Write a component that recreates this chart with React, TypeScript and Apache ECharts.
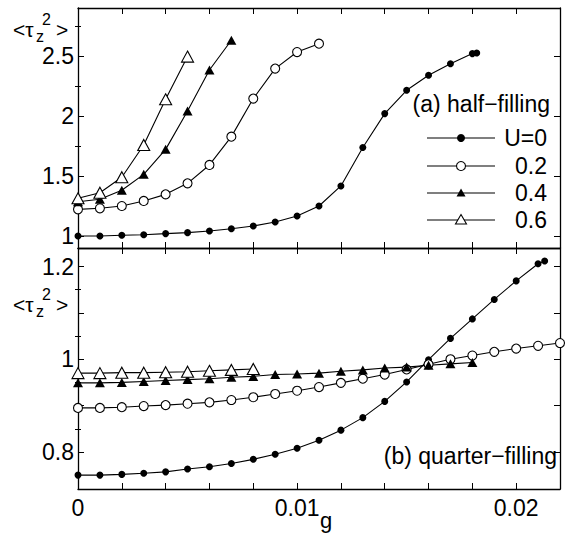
import React, { useEffect, useRef } from "react";
import * as echarts from "echarts";

const FONT = '"Liberation Sans", Arial, Helvetica, sans-serif';

// (a) half-filling
const gHalfU0 = [0, 0.001, 0.002, 0.003, 0.004, 0.005, 0.006, 0.007, 0.008, 0.009, 0.01, 0.011, 0.012, 0.013, 0.014, 0.015, 0.016, 0.017, 0.018, 0.0182];
const halfU0 = [1.0, 1.0, 1.006, 1.011, 1.02, 1.028, 1.042, 1.061, 1.083, 1.117, 1.167, 1.25, 1.417, 1.737, 2.02, 2.214, 2.339, 2.436, 2.52, 2.525];
const gHalfU02 = [0, 0.001, 0.002, 0.003, 0.004, 0.005, 0.006, 0.007, 0.008, 0.009, 0.01, 0.011];
const halfU02 = [1.222, 1.231, 1.25, 1.292, 1.347, 1.439, 1.592, 1.828, 2.145, 2.395, 2.533, 2.603];
const gHalfU04 = [0, 0.001, 0.002, 0.003, 0.004, 0.005, 0.006, 0.007];
const halfU04 = [1.286, 1.306, 1.381, 1.514, 1.722, 2.042, 2.383, 2.631];
const gHalfU06 = [0, 0.001, 0.002, 0.003, 0.004, 0.005];
const halfU06 = [1.314, 1.361, 1.49, 1.758, 2.139, 2.495];

// (b) quarter-filling
const gQuarterU0 = [0, 0.001, 0.002, 0.003, 0.004, 0.005, 0.006, 0.007, 0.008, 0.009, 0.01, 0.011, 0.012, 0.013, 0.014, 0.015, 0.016, 0.017, 0.018, 0.019, 0.02, 0.021, 0.0213];
const quarterU0 = [0.75, 0.75, 0.7515, 0.754, 0.757, 0.763, 0.768, 0.775, 0.784, 0.795, 0.808, 0.825, 0.847, 0.874, 0.909, 0.951, 0.999, 1.045, 1.087, 1.129, 1.169, 1.206, 1.212];
const gQuarterU02 = [0, 0.001, 0.002, 0.003, 0.004, 0.005, 0.006, 0.007, 0.008, 0.009, 0.01, 0.011, 0.012, 0.013, 0.014, 0.015, 0.016, 0.017, 0.018, 0.019, 0.02, 0.021, 0.022];
const quarterU02 = [0.895, 0.895, 0.8965, 0.899, 0.901, 0.904, 0.907, 0.912, 0.918, 0.925, 0.932, 0.94, 0.949, 0.958, 0.967, 0.978, 0.989, 1.0, 1.008, 1.016, 1.023, 1.029, 1.035];
const gQuarterU04 = [0, 0.001, 0.002, 0.003, 0.004, 0.005, 0.006, 0.007, 0.008, 0.009, 0.01, 0.011, 0.012, 0.013, 0.014, 0.015, 0.016, 0.017, 0.018];
const quarterU04 = [0.949, 0.949, 0.95, 0.952, 0.954, 0.956, 0.958, 0.961, 0.963, 0.967, 0.968, 0.97, 0.974, 0.977, 0.981, 0.983, 0.987, 0.99, 0.993];
const gQuarterU06 = [0, 0.001, 0.002, 0.003, 0.004, 0.005, 0.006, 0.007, 0.008];
const quarterU06 = [0.97, 0.97, 0.971, 0.971, 0.972, 0.973, 0.975, 0.977, 0.979];

// axis ticks
const xTickLabels = [0, 0.01, 0.02];
const halfMajor = [1, 1.5, 2, 2.5];
const halfMinor = [1.25, 1.75, 2.25, 2.75];
const halfLabels = [1, 1.5, 2, 2.5];
const quarterMajor = [0.8, 0.9, 1.0, 1.1, 1.2];
const quarterMinor = [0.75, 0.85, 0.95, 1.05, 1.15];
const quarterLabels = [0.8, 1, 1.2];

const legendNames = ["U=0", "0.2", "0.4", "0.6"];

const pair = (xs: number[], ys: number[]) => xs.map((x, i) => [x, ys[i]]);

const AXIS_LINE = { show: true, onZero: false, lineStyle: { color: "#000", width: 1.3 } };

function xAxis(grid: number, pos: string, showLabel: boolean) {
  return {
    type: "value",
    gridIndex: grid,
    position: pos,
    min: 0,
    max: 0.022,
    interval: 0.002,
    axisLine: AXIS_LINE,
    axisTick: { show: true, inside: true, length: 6, lineStyle: { color: "#000", width: 1 } },
    axisLabel: {
      show: showLabel,
      margin: 7,
      fontSize: 23,
      color: "#000",
      fontFamily: FONT,
      formatter: (v: number) => {
        const hit = xTickLabels.find((t) => Math.abs(t - v) < 1e-7);
        if (hit === undefined) return "";
        return hit === 0 ? "0" : hit.toFixed(2);
      },
    },
    splitLine: { show: false },
  };
}

function yAxis(grid: number, pos: string, min: number, max: number, ticks: number[], len: number, labels: number[] | null, line: boolean) {
  return {
    type: "value",
    gridIndex: grid,
    position: pos,
    min,
    max,
    axisLine: line ? AXIS_LINE : { show: false },
    axisTick: { show: true, inside: true, length: len, customValues: ticks, lineStyle: { color: "#000", width: 1 } },
    axisLabel: labels
      ? { show: true, customValues: labels, margin: 4, fontSize: 23, color: "#000", fontFamily: FONT, formatter: (v: number) => String(Math.round(v * 100) / 100) }
      : { show: false },
    splitLine: { show: false },
  };
}

const filledCircle = { symbol: "circle", symbolSize: 7, itemStyle: { color: "#000", borderColor: "#000", borderWidth: 0 } };
const openCircle = { symbol: "circle", symbolSize: 9, itemStyle: { color: "#fff", borderColor: "#000", borderWidth: 1.1 } };
const filledTri = { symbol: "triangle", symbolSize: [10, 9], itemStyle: { color: "#000", borderColor: "#000", borderWidth: 0 } };
const openTri = { symbol: "triangle", symbolSize: [12, 11], itemStyle: { color: "#fff", borderColor: "#000", borderWidth: 1.1 } };

function line(name: string, xi: number, yi: number, data: number[][], sym: any) {
  return {
    type: "line",
    name,
    xAxisIndex: xi,
    yAxisIndex: yi,
    data,
    showSymbol: true,
    lineStyle: { color: "#000", width: 1.1 },
    ...sym,
  };
}

function yNameGraphics(cy: number) {
  return [
    { type: "text", x: 13, y: cy, style: { text: "<τ", font: `21px ${FONT}`, fill: "#000", verticalAlign: "middle" } },
    { type: "text", x: 36, y: cy + 7, style: { text: "z", font: `16px ${FONT}`, fill: "#000", verticalAlign: "middle" } },
    { type: "text", x: 42, y: cy - 10, style: { text: "2", font: `16px ${FONT}`, fill: "#000", verticalAlign: "middle" } },
    { type: "text", x: 56, y: cy, style: { text: ">", font: `21px ${FONT}`, fill: "#000", verticalAlign: "middle" } },
  ];
}

function legendGraphics() {
  const ys = [138, 166, 193, 220];
  const out: any[] = [];
  ys.forEach((y, i) => {
    out.push({ type: "line", shape: { x1: 427, y1: y, x2: 495, y2: y }, style: { stroke: "#000", lineWidth: 1.1 } });
    const cx = 461;
    if (i === 0) out.push({ type: "circle", shape: { cx, cy: y, r: 4 }, style: { fill: "#000" } });
    if (i === 1) out.push({ type: "circle", shape: { cx, cy: y, r: 4.5 }, style: { fill: "#fff", stroke: "#000", lineWidth: 1.1 } });
    if (i === 2) out.push({ type: "polygon", shape: { points: [[cx, y - 4.5], [cx + 4.5, y + 3.5], [cx - 4.5, y + 3.5]] }, style: { fill: "#000" } });
    if (i === 3) out.push({ type: "polygon", shape: { points: [[cx, y - 5.5], [cx + 5.5, y + 4], [cx - 5.5, y + 4]] }, style: { fill: "#fff", stroke: "#000", lineWidth: 1.1 } });
    out.push({
      type: "text",
      x: 547,
      y: y,
      style: { text: legendNames[i], font: `23px ${FONT}`, fill: "#000", align: "right", verticalAlign: "middle" },
    });
  });
  return out;
}

export default function App() {
  const ref = useRef<HTMLDivElement>(null);
  useEffect(() => {
    if (!ref.current) return;
    const chart = echarts.init(ref.current, null, { renderer: "svg" });
    const option: any = {
      animation: false,
      backgroundColor: "#fff",
      grid: [
        { left: 78, top: 8, width: 482, height: 240 },
        { left: 78, top: 248, width: 482, height: 241 },
      ],
      xAxis: [xAxis(0, "bottom", false), xAxis(0, "top", false), xAxis(1, "bottom", true), xAxis(1, "top", false)],
      yAxis: [
        yAxis(0, "left", 0.9, 2.9, halfMajor, 6, halfLabels, true),
        yAxis(0, "left", 0.9, 2.9, halfMinor, 3, null, false),
        yAxis(0, "right", 0.9, 2.9, halfMajor, 6, null, true),
        yAxis(0, "right", 0.9, 2.9, halfMinor, 3, null, false),
        yAxis(1, "left", 0.72, 1.24, quarterMajor, 6, quarterLabels, true),
        yAxis(1, "left", 0.72, 1.24, quarterMinor, 3, null, false),
        yAxis(1, "right", 0.72, 1.24, quarterMajor, 6, null, true),
        yAxis(1, "right", 0.72, 1.24, quarterMinor, 3, null, false),
      ],
      series: [
        line("U=0", 0, 0, pair(gHalfU0, halfU0), filledCircle),
        line("0.2", 0, 0, pair(gHalfU02, halfU02), openCircle),
        line("0.4", 0, 0, pair(gHalfU04, halfU04), filledTri),
        line("0.6", 0, 0, pair(gHalfU06, halfU06), openTri),
        line("U=0", 2, 4, pair(gQuarterU0, quarterU0), filledCircle),
        line("0.2", 2, 4, pair(gQuarterU02, quarterU02), openCircle),
        line("0.4", 2, 4, pair(gQuarterU04, quarterU04), filledTri),
        line("0.6", 2, 4, pair(gQuarterU06, quarterU06), openTri),
      ],
      graphic: [
        ...yNameGraphics(29),
        ...yNameGraphics(304),
        { type: "text", x: 550, y: 104, style: { text: "(a) half−filling", font: `23px ${FONT}`, fill: "#000", align: "right", verticalAlign: "middle" } },
        { type: "text", x: 557, y: 456, style: { text: "(b) quarter−filling", font: `23px ${FONT}`, fill: "#000", align: "right", verticalAlign: "middle" } },
        { type: "text", x: 320, y: 520, style: { text: "g", font: `22px ${FONT}`, fill: "#000", align: "left", verticalAlign: "middle" } },
        ...legendGraphics(),
      ],
    };
    chart.setOption(option);
    return () => chart.dispose();
  }, []);
  return <div ref={ref} style={{ position: "fixed", left: 0, top: 0, width: 567, height: 535 }} />;
}
